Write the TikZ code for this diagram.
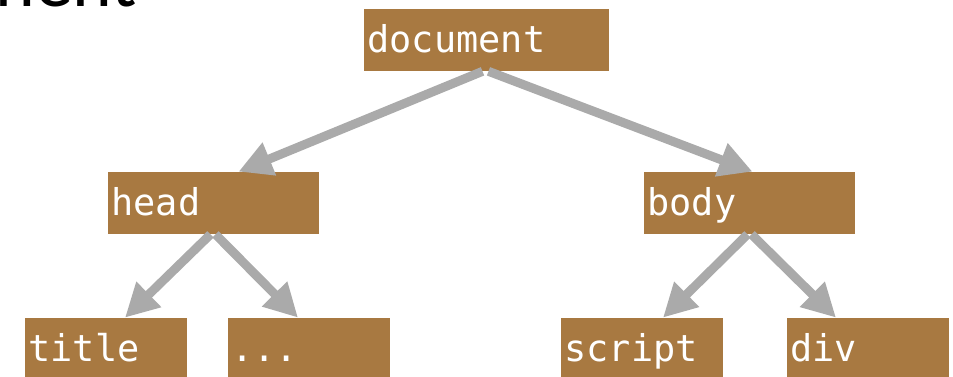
\documentclass[tikz,border=0pt]{standalone}
\usepackage{fontspec}
\usepackage{xcolor}
\usepackage{tikz}
\usetikzlibrary{arrows.meta, calc}
\newfontfamily\tagfont{DejaVu Sans Mono}
\newfontfamily\headfont{Carlito}
\definecolor{tagbrown}{RGB}{168,121,65}
\definecolor{linkgray}{RGB}{170,170,170}
\tikzset{
    tag/.style={rectangle, fill=tagbrown, text=white, inner xsep=0.07cm, inner ysep=0pt,
                minimum height=1.24cm, text height=0.6cm, text depth=0.08cm, align=left,
                font=\tagfont\fontsize{21}{21}\selectfont},
    wide/.style={tag, text width=4.76cm},
    mid/.style={tag, text width=4.08cm},
    narrow/.style={tag, text width=3.1cm},
    link/.style={draw=linkgray, line width=5.1pt, -{Triangle[length=19pt,width=19pt]}}
}

\begin{document}
\begin{tikzpicture}[x=0.02cm, y=-0.02cm]
    \useasboundingbox (0,0) rectangle (953,377);

    % Heading, mostly above the page
    \node[anchor=base west, inner sep=0pt, font=\headfont\fontsize{43}{43}\selectfont] (heading) at (-5,6.5) {nent};

    % Tree
    \node[wide] (document) at (486.5,40) {document};
    \node[mid] (head) at (213.5,203) {head};
    \node[mid] (body) at (749.5,203) {body};
    \node[narrow] (title) at (106,349) {title};
    \node[narrow] (dots) at (309,349) {...};
    \node[narrow] (script) at (642,349) {script};
    \node[narrow] (div) at (868,349) {div};

    % Links
    \draw[link] ($(document.south)+(-4,0)$) -- ($(head.north)+(25,0)$);
    \draw[link] ($(document.south)+(2,0)$) -- ($(body.north)+(3,0)$);
    \draw[link] ($(head.south)+(-3,0)$) -- ($(title.north)+(19,0)$);
    \draw[link] ($(head.south)+(2,0)$) -- ($(dots.north)+(-11,0)$);
    \draw[link] ($(body.south)+(-2,0)$) -- ($(script.north)+(21,0)$);
    \draw[link] ($(body.south)+(2,0)$) -- ($(div.north)+(-32,0)$);
\end{tikzpicture}
\end{document}
